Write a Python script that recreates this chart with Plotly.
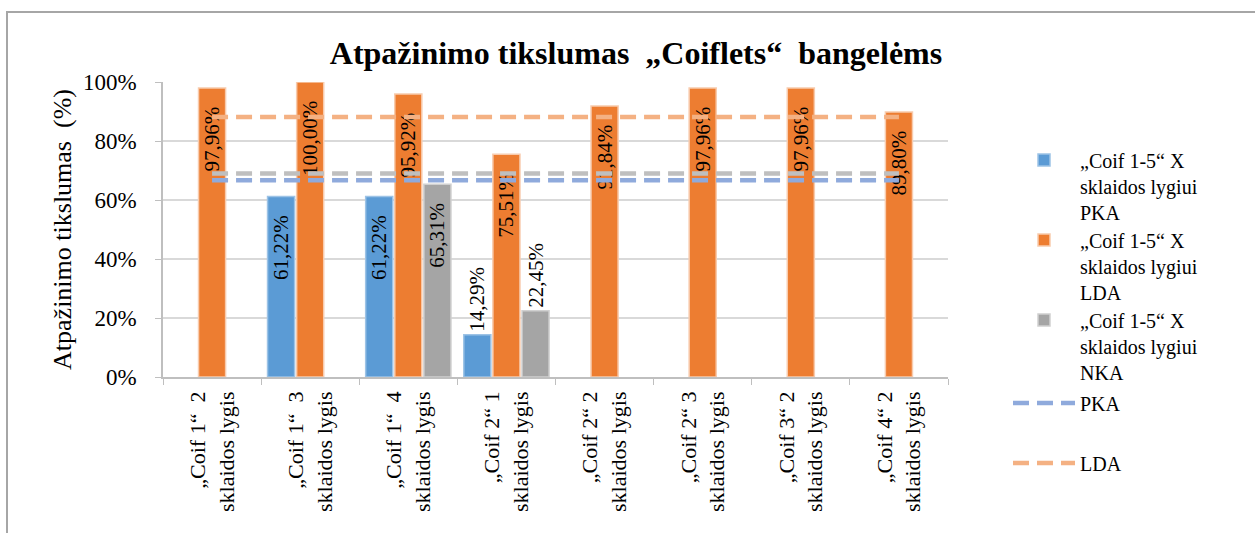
import plotly.graph_objects as go

categories = [
    "„Coif 1“  2<br>sklaidos lygis",
    "„Coif 1“  3<br>sklaidos lygis",
    "„Coif 1“  4<br>sklaidos lygis",
    "„Coif 2“ 1<br>sklaidos lygis",
    "„Coif 2“ 2<br>sklaidos lygis",
    "„Coif 2“ 3<br>sklaidos lygis",
    "„Coif 3“ 2<br>sklaidos lygis",
    "„Coif 4“ 2<br>sklaidos lygis",
]
pka_values = [None, 61.22, 61.22, 14.29, None, None, None, None]
lda_values = [97.96, 100.00, 95.92, 75.51, 91.84, 97.96, 97.96, 89.80]
nka_values = [None, None, 65.31, 22.45, None, None, None, None]

pka_avg = 66.67
nka_avg = 69.0
lda_avg = 88.1

bar_names = [
    "„Coif 1-5“ X<br>sklaidos lygiui<br>PKA",
    "„Coif 1-5“ X<br>sklaidos lygiui<br>LDA",
    "„Coif 1-5“ X<br>sklaidos lygiui<br>NKA",
]

FONT = "Liberation Serif"
LFS = 20


def fmt(v):
    return "" if v is None else f"{v:.2f}%".replace(".", ",") + "\u00a0\u00a0\u00a0"


def pos(v):
    return "outside" if (v is not None and v < 30) else "inside"


fig = go.Figure()
for i, (name, vals, col, edge) in enumerate([
    (bar_names[0], pka_values, "#5B9BD5", "#9DC3E6"),
    (bar_names[1], lda_values, "#ED7D31", "#F8CBAD"),
    (bar_names[2], nka_values, "#A5A5A5", "#D0D0D0"),
]):
    fig.add_trace(go.Bar(
        x=categories, y=vals, name=name,
        marker=dict(color=col, line=dict(color=edge, width=1.5)),
        text=[fmt(v) for v in vals],
        textposition=[pos(v) for v in vals],
        insidetextanchor="end",
        textangle=-90,
        textfont=dict(family=FONT, size=21, color="black"),
        cliponaxis=False,
        hoverinfo="skip",
        legend="legend" if i == 0 else f"legend{i + 1}",
    ))

fig.add_trace(go.Scatter(
    x=categories, y=[nka_avg] * len(categories), mode="lines",
    line=dict(color="#BFBFBF", width=4.5, dash="16px,8px"),
    showlegend=False, hoverinfo="skip",
))
fig.add_trace(go.Scatter(
    x=categories, y=[pka_avg] * len(categories), mode="lines", name="PKA",
    line=dict(color="#8FAADC", width=4.5, dash="16px,8px"), hoverinfo="skip",
    legend="legend4",
))
fig.add_trace(go.Scatter(
    x=categories, y=[lda_avg] * len(categories), mode="lines", name="LDA",
    line=dict(color="#F4B183", width=4.5, dash="16px,8px"), hoverinfo="skip",
    legend="legend5",
))

L, R, T, B = 163, 307, 82, 156
W, H = 1255, 533
pw, ph = W - L - R, H - T - B


def legend_at(ycenter):
    return dict(
        x=(1008 - L) / pw, xanchor="left", y=1 - (ycenter - T) / ph, yanchor="middle",
        font=dict(family=FONT, size=LFS, color="black"),
        itemwidth=62, bgcolor="rgba(0,0,0,0)", valign="top",
    )


fig.update_layout(
    width=W, height=H,
    margin=dict(l=L, r=R, t=T, b=B),
    paper_bgcolor="white", plot_bgcolor="white",
    barmode="group", bargap=0.11, bargroupgap=0.07,
    uniformtext=dict(minsize=21, mode="show"),
    font=dict(family=FONT, color="black"),
    title=dict(
        text="<b>Atpažinimo tikslumas  „Coiflets“  bangelėms</b>",
        x=636 / W, xanchor="center", y=1 - 53 / H, yanchor="middle",
        font=dict(family=FONT, size=32, color="black"),
    ),
    xaxis=dict(
        type="category", tickangle=-90, tickson="boundaries",
        ticks="outside", ticklen=6, tickcolor="#BFBFBF",
        showline=True, linecolor="#BFBFBF", linewidth=1.5,
        showgrid=False, ticklabelstandoff=4,
        tickfont=dict(family=FONT, size=22, color="black"),
    ),
    yaxis=dict(
        range=[0, 100], dtick=20, ticksuffix="%",
        ticks="outside", ticklen=6, tickcolor="#BFBFBF",
        showline=True, linecolor="#BFBFBF", linewidth=1.5,
        gridcolor="#D9D9D9", gridwidth=1.5, ticklabelstandoff=14,
        tickfont=dict(family=FONT, size=23, color="black"),
        title=dict(text="Atpažinimo tikslumas  (%)", standoff=4,
                   font=dict(family=FONT, size=26, color="black")),
    ),
    legend=legend_at(186),
    legend2=legend_at(266),
    legend3=legend_at(346),
    legend4=legend_at(403),
    legend5=legend_at(463),
    shapes=[dict(
        type="rect", xref="paper", yref="paper",
        x0=(7 - L) / pw, x1=(1265 - L) / pw,
        y0=1 - (545 - T) / ph, y1=1 - (12 - T) / ph,
        line=dict(color="#A6A6A6", width=2), layer="below",
    )],
)

fig.write_html("out.html")
